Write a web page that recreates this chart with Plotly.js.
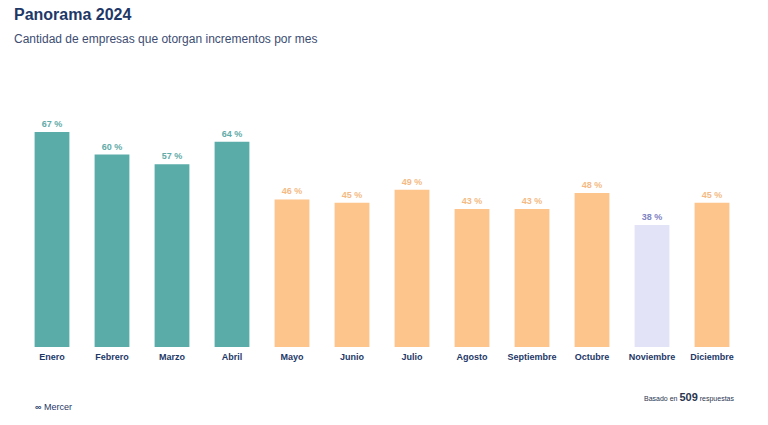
<!DOCTYPE html>
<html><head><meta charset="utf-8">
<script src="https://cdn.plot.ly/plotly-3.0.1.min.js"></script>
<style>html,body{margin:0;padding:0;background:#fff;}#chart{width:768px;height:425px;}</style>
</head><body><div id="chart"></div>
<script>
const months = ["Enero","Febrero","Marzo","Abril","Mayo","Junio","Julio","Agosto","Septiembre","Octubre","Noviembre","Diciembre"];
const values = [67,60,57,64,46,45,49,43,43,48,38,45];
const groups = ["t","t","t","t","o","o","o","o","o","o","l","o"];
const barColors = {t:"#5aaca9", o:"#fdc48b", l:"#e2e3f6"};
const textColors = {t:"#62aba8", o:"#f4ba84", l:"#7f84c4"};
const responses = 509;

const trace = {
  type:"bar", x:months, y:values,
  marker:{color:groups.map(g=>barColors[g])},
  text:values.map(v=>v+" %"), textposition:"outside", cliponaxis:false,
  textfont:{family:"Liberation Sans, Arial, sans-serif", size:9, weight:"bold", color:groups.map(g=>textColors[g])},
  hoverinfo:"none"
};
function px(x){return (x-22)/(768-22-26);}
function py(y){return (425-78-y)/(425-116-78);}
const layout = {
  width:768, height:425,
  margin:{l:22, r:26, t:116, b:78},
  paper_bgcolor:"#fff", plot_bgcolor:"#fff",
  bargap:0.42, showlegend:false,
  xaxis:{showline:false, showgrid:false, zeroline:false, ticks:"", ticklabelstandoff:3,
    tickfont:{family:"Liberation Sans, Arial, sans-serif", size:9, color:"#1e3868", weight:"bold"}},
  yaxis:{range:[0,72], visible:false, showgrid:false, zeroline:false},
  annotations:[
    {xref:"paper", yref:"paper", x:px(12), y:py(14), xanchor:"left", yanchor:"middle", showarrow:false,
     text:"<b>Panorama 2024</b>", font:{family:"Liberation Sans, Arial, sans-serif", size:16, color:"#1e3868"}},
    {xref:"paper", yref:"paper", x:px(12), y:py(39), xanchor:"left", yanchor:"middle", showarrow:false,
     text:"Cantidad de empresas que otorgan incrementos por mes", font:{family:"Liberation Sans, Arial, sans-serif", size:12, color:"#3d4d72"}},
    {xref:"paper", yref:"paper", x:px(736), y:py(397), xanchor:"right", yanchor:"middle", showarrow:false,
     text:"Basado en <span style='font-size:11px'><b>"+responses+"</b></span> respuestas", font:{family:"Liberation Sans Narrow, Liberation Sans, sans-serif", size:7, color:"#2a3550"}},
    {xref:"paper", yref:"paper", x:px(33), y:py(407), xanchor:"left", yanchor:"middle", showarrow:false,
     text:"<b>∞</b> Mercer", font:{family:"Liberation Sans, Arial, sans-serif", size:9, color:"#1e3868"}}
  ]
};
Plotly.newPlot("chart",[trace],layout,{displayModeBar:false,staticPlot:true});
</script></body></html>
